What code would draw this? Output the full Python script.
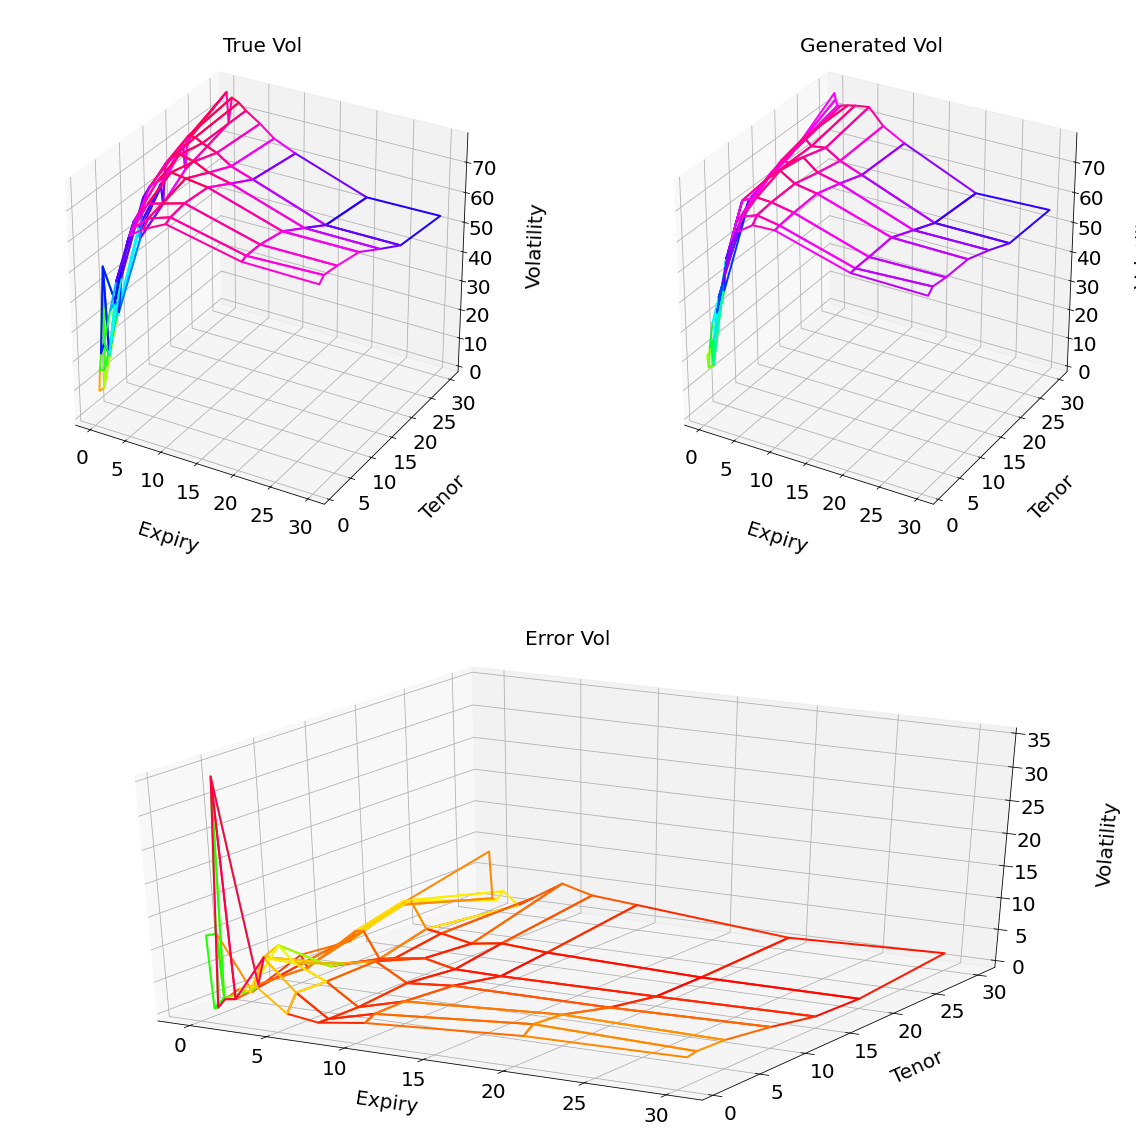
import numpy as np, matplotlib
matplotlib.use('Agg')
import matplotlib.pyplot as plt, seaborn as sns
from mpl_toolkits.mplot3d import Axes3D
sns.set_style('white', rc={'text.color':'black','axes.labelcolor':'black','xtick.color':'black','ytick.color':'black',
                           'axes.edgecolor':'black','grid.color':'#b0b0b0'})
plt.rcParams['font.family']='DejaVu Sans'
W,H=1136,1140
expiry=np.array([1/12,.25,.5,1,2,3,5,7,10,20,30])
tenor=np.array([1,2,5,10,15,20,30])
true_vol=np.array([
 [ 8.8, 8.4,28.0,50.0,60.0,68.0,76.0],
 [16.0,15.0,30.0,53.0,62.0,70.0,76.4],
 [22.0,50.0,31.0,50.0,55.5,61.3,66.0],
 [26.0,20.5,43.0,63.5,69.3,72.8,75.0],
 [37.5,39.0,55.5,68.0,72.0,73.0,73.9],
 [48.0,51.5,63.0,70.0,73.4,71.7,71.8],
 [64.3,65.6,70.0,74.4,72.4,69.7,68.6],
 [67.7,70.0,71.3,73.7,70.0,66.5,64.8],
 [71.3,72.3,73.3,72.7,68.3,64.0,61.6],
 [66.0,66.7,66.7,65.0,60.2,55.3,53.0],
 [65.7,67.4,66.7,65.0,60.0,55.2,53.2]])
gen_vol=np.array([
 [21.0,22.0,38.0,58.0,63.8,66.0,76.0],
 [17.0,16.5,44.0,60.0,65.0,67.0,74.0],
 [24.0,26.0,49.0,62.0,66.0,68.0,72.0],
 [32.6,35.0,53.0,64.0,67.0,69.0,72.3],
 [42.0,45.5,61.5,67.0,71.0,73.0,73.0],
 [50.0,57.5,69.7,70.7,70.7,70.7,73.5],
 [65.6,69.3,72.0,75.0,73.8,71.4,74.2],
 [69.0,71.0,71.7,72.0,70.0,68.3,69.0],
 [69.3,69.7,70.3,70.7,68.3,65.5,65.0],
 [62.4,62.7,62.7,63.0,59.5,56.0,54.4],
 [62.1,63.8,63.0,62.7,59.6,55.9,55.2]])
err_vol=np.array([
 [11.7,11.4, 0.5, 3.4, 2.6, 5.3, 8.6],
 [ 0.45,1.4, 1.0, 2.2, 3.4, 5.6, 1.0],
 [ 0.6,34.9, 1.8, 1.5, 4.4, 6.25,0.8],
 [ 2.1, 1.5, 6.3, 2.6, 4.6, 6.6, 2.4],
 [ 4.1, 3.0, 8.5, 2.2, 0.4, 2.3, 0.4],
 [ 5.0, 8.7, 6.0, 3.0, 0.8, 1.9, 1.9],
 [ 1.2, 3.9, 3.8, 4.0, 1.5, 0.9, 4.9],
 [ 0.5, 0.45,0.45,1.2, 0.4, 1.6, 3.6],
 [ 1.5, 2.3, 2.4, 1.8, 0.3, 1.1, 3.0],
 [ 3.0, 4.2, 3.8, 1.8, 0.46,0.46,0.9],
 [ 3.3, 3.6, 3.4, 2.25,0.76,0.46,1.7]])
true_hues={(2,0):0.66,(2,1):0.66}
gen_hues={(i,j):0.84 for i in range(3) for j in (3,4,5)}
err_hues={(0,0):0.32,(1,0):0.32,(2,0):0.97,(2,1):0.95,(4,2):0.24,(2,5):0.16,(3,5):0.16,(0,5):0.09,(1,5):0.10}
X,Y=np.meshgrid(expiry,tenor,indexing='ij')
hsv=matplotlib.colormaps['hsv']
def panel(rect,Z,zr,norm,title,hues,ty,xlp,ylp,zlp,tp):
    ax=fig.add_axes([rect[0]/W,1-rect[3]/H,(rect[2]-rect[0])/W,(rect[3]-rect[1])/H],projection='3d')
    ax.apply_aspect=lambda position=None: None
    ax.set_box_aspect((1,1,1),zoom=0.947)
    s=ax.plot_surface(X,Y,Z,cmap='hsv',vmin=norm[0],vmax=norm[1],linewidth=2,rstride=1,cstride=1)
    c=s.to_rgba(s.get_array()).copy()
    for (i,j),h in hues.items():
        c[i*(len(tenor)-1)+j]=hsv(h)
    s.set_array(None); s.set_facecolor((0,0,0,0)); s.set_edgecolor(c)
    ax.set_xlim(-2.1,32.18); ax.set_ylim(-1.115,32.1); ax.set_zlim(*zr)
    ax.view_init(30,-60)
    ax.tick_params(labelsize=20)
    ax.tick_params(axis='x',pad=tp); ax.tick_params(axis='y',pad=tp)
    ax.set_xticks(range(0,31,5)); ax.set_yticks(range(0,31,5))
    ax.set_xlabel('Expiry',fontsize=20,labelpad=xlp); ax.set_ylabel('Tenor',fontsize=20,labelpad=ylp); ax.set_zlabel('Volatility',fontsize=20,labelpad=zlp)
    ax.set_title(title,fontsize=20,pad=0,y=ty/0.92)
    return ax
fig=plt.figure(figsize=(W/72,H/72),dpi=72)
panel((8,39.5,518,534.5),true_vol,(-2,79.7),(4,76),'True Vol',true_hues,0.9747,31,32,30,6)
panel((617,39.5,1127,534.5),gen_vol,(-2,79.7),(0,78),'Generated Vol',gen_hues,0.9747,31,32,30,6)
panel((10,634.5,1126,1130.5),err_vol,(-1.1,35.8),(0.3,35),'Error Vol',err_hues,0.979,28,28,31,5)
fig.savefig('out.png',dpi=72)
